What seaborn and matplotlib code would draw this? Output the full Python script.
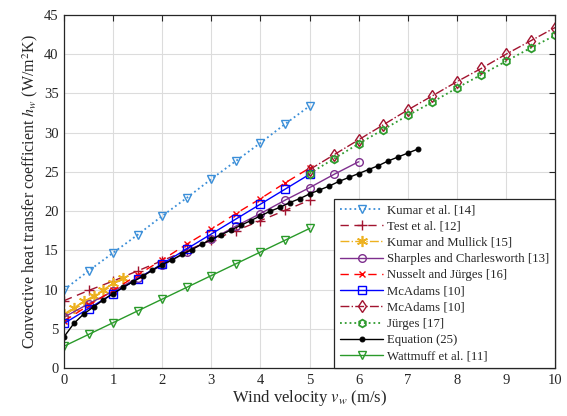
import pandas as pd
import matplotlib
matplotlib.use("Agg")
import matplotlib.pyplot as plt
import seaborn as sns
import numpy as np

sns.set_style("white")
plt.rcParams['font.family'] = ['Liberation Serif', 'DejaVu Serif']
plt.rcParams['mathtext.fontset'] = 'stix'

# data
v_half5 = [0, 0.5, 1, 1.5, 2, 2.5, 3, 3.5, 4, 4.5, 5]
kumar = [10.0, 12.4, 14.7, 17.0, 19.4, 21.7, 24.1, 26.4, 28.7, 31.1, 33.4]
test = [8.6, 9.9, 11.1, 12.4, 13.7, 15.0, 16.3, 17.5, 18.8, 20.1, 21.4]

v_km = [0, 0.2, 0.4, 0.6, 0.8, 1.0, 1.2]
kumar_mullick = [6.9, 7.7, 8.5, 9.2, 10.0, 10.8, 11.5]

v_sharples = [0, 0.5, 1, 1.5, 2, 2.5, 3, 3.5, 4, 4.5, 5, 5.5, 6]
sharples = [6.5, 8.2, 9.8, 11.5, 13.1, 14.8, 16.4, 18.1, 19.7, 21.4, 23.0, 24.7, 26.3]

nusselt = [6.0, 8.0, 9.9, 11.9, 13.8, 15.8, 17.7, 19.7, 21.6, 23.6, 25.5]
mcadams_low = [5.7, 7.6, 9.5, 11.4, 13.3, 15.2, 17.1, 19.0, 20.9, 22.8, 24.7]

v_high = [5, 5.5, 6, 6.5, 7, 7.5, 8, 8.5, 9, 9.5, 10]
mcadams_high = [25.3, 27.2, 29.1, 31.0, 32.9, 34.7, 36.5, 38.2, 40.0, 41.7, 43.4]
jurges = [24.8, 26.7, 28.6, 30.4, 32.2, 33.9, 35.7, 37.4, 39.1, 40.8, 42.4]

v_eq = [0, 0.2, 0.4, 0.6, 0.8, 1.0, 1.2, 1.4, 1.6, 1.8, 2.0, 2.2, 2.4, 2.6, 2.8,
        3.0, 3.2, 3.4, 3.6, 3.8, 4.0, 4.2, 4.4, 4.6, 4.8, 5.0, 5.2, 5.4, 5.6,
        5.8, 6.0, 6.2, 6.4, 6.6, 6.8, 7.0, 7.2]
equation = [4.0, 5.7, 6.9, 7.8, 8.7, 9.5, 10.3, 11.0, 11.7, 12.5, 13.2, 13.8,
            14.5, 15.1, 15.8, 16.4, 17.0, 17.6, 18.2, 18.8, 19.4, 20.0, 20.5,
            21.1, 21.6, 22.2, 22.7, 23.2, 23.8, 24.3, 24.8, 25.3, 25.8, 26.4,
            26.9, 27.4, 27.9]

wattmuff = [2.8, 4.3, 5.8, 7.3, 8.8, 10.3, 11.8, 13.3, 14.8, 16.3, 17.8]

fig = plt.figure(figsize=(5.67, 4.16), dpi=100)
ax = fig.add_axes([0.113, 0.115, 0.866, 0.849])

ms = 5.5
lw = 1.0
sns.lineplot(x=v_half5, y=kumar, ax=ax, color='#3a8ed8', linestyle=':', lw=1.3,
             marker='v', ms=ms, mfc='none', mec='#3a8ed8', mew=1, label='Kumar et al. [14]')
sns.lineplot(x=v_half5, y=test, ax=ax, color='#a2142f', linestyle=(0, (6, 4)), lw=lw,
             marker='+', ms=7, mec='#a2142f', mew=1, label='Test et al. [12]')
sns.lineplot(x=v_km, y=kumar_mullick, ax=ax, color='#edb120', linestyle='-.', lw=lw,
             marker=(6, 2, 0), ms=8, mec='#edb120', mew=1.2, label='Kumar and Mullick [15]')
sns.lineplot(x=v_sharples, y=sharples, ax=ax, color='#7e2f8e', linestyle='-', lw=lw,
             marker='o', ms=ms, mfc='none', mec='#7e2f8e', mew=1, label='Sharples and Charlesworth [13]')
sns.lineplot(x=v_half5, y=nusselt, ax=ax, color='#ff0000', linestyle=(0, (6, 4)), lw=lw,
             marker='x', ms=4.5, mec='#ff0000', mew=1, label='Nusselt and Jürges [16]')
sns.lineplot(x=v_half5, y=mcadams_low, ax=ax, color='#0000ff', linestyle='-', lw=lw,
             marker='s', ms=ms, mfc='none', mec='#0000ff', mew=1, label='McAdams [10]')
sns.lineplot(x=v_high, y=mcadams_high, ax=ax, color='#a2142f', linestyle='-.', lw=lw,
             marker='d', ms=6.5, mfc='none', mec='#a2142f', mew=1, label='McAdams [10]')
sns.lineplot(x=v_high, y=jurges, ax=ax, color='#2e9b2e', linestyle=':', lw=1.3,
             marker='h', ms=5.5, mfc='none', mec='#2e9b2e', mew=1.3, label='Jürges [17]')
sns.lineplot(x=v_eq, y=equation, ax=ax, color='black', linestyle='-', lw=lw,
             marker='o', ms=3.5, mec='black', label='Equation (25)')
sns.lineplot(x=v_half5, y=wattmuff, ax=ax, color='#2a9a2a', linestyle='-', lw=lw,
             marker='v', ms=ms, mfc='none', mec='#2a9a2a', mew=1, label='Wattmuff et al. [11]')

ax.set_xlim(0, 10)
ax.set_ylim(0, 45)
ax.set_xticks(range(0, 11))
ax.set_yticks(range(0, 46, 5))
ax.grid(True, color='#dcdcdc', lw=0.8)
ax.tick_params(direction='in', top=True, right=True, labelsize=10.5, length=4, width=0.8, pad=4)
for s in ax.spines.values():
    s.set_color('#262626')
    s.set_linewidth(0.9)

ax.set_xlabel('Wind velocity $v_w$ (m/s)', fontsize=12, labelpad=1)
ax.set_ylabel('Convective heat transfer coefficient $h_w$ (W/m$^2$K)', fontsize=11.5, labelpad=3)

leg = ax.legend(loc='lower right', borderaxespad=0, fancybox=False, edgecolor='#262626',
                framealpha=1, fontsize=9.2, handlelength=3.4, labelspacing=0.33,
                handletextpad=0.3, borderpad=0.45)
leg.get_frame().set_linewidth(0.9)

fig.savefig('out.png', dpi=100)
